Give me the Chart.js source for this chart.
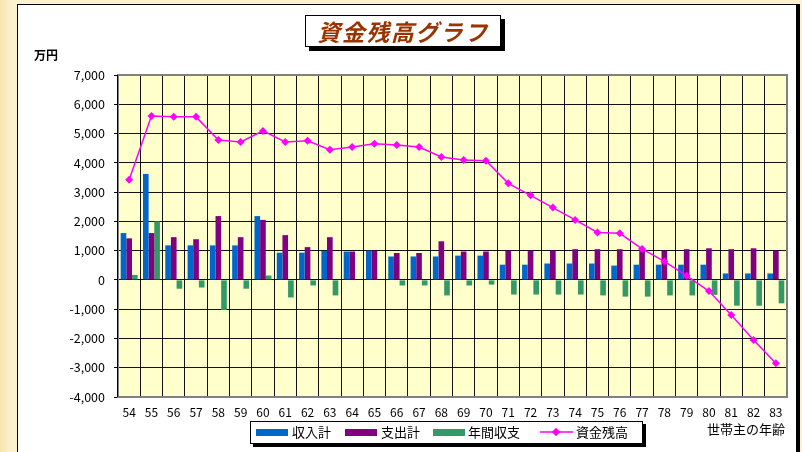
<!DOCTYPE html>
<html><head><meta charset="utf-8">
<script src="https://cdn.jsdelivr.net/npm/chart.js@4/dist/chart.umd.min.js"></script>
<style>
html,body{margin:0;padding:0;width:802px;height:452px;overflow:hidden;background:linear-gradient(to right,#f7e3ad 0px,#fdf1d0 12px,#fdf1d0 100%);font-family:'Noto Sans CJK JP',sans-serif;}
#panel{position:absolute;left:17px;top:4px;width:778px;height:460px;background:#fff;border-left:1px solid #000;border-top:1px solid #000;border-right:4px solid #000;}
#wrap{position:absolute;left:0;top:0;width:802px;height:452px;}
#wrap canvas{position:absolute;left:0;top:0;}
.t{position:absolute;white-space:nowrap;color:#000;}
#title{position:absolute;left:305px;top:15px;width:194px;height:30px;border:1px solid #000;background:#fff;box-shadow:4px 4px 0 #000;color:#993300;font-weight:bold;font-style:italic;font-size:23px;line-height:30px;text-align:center;letter-spacing:1.5px;}
#unit{left:34px;top:46px;font-size:12px;font-weight:bold;}
#xname{right:17px;top:419px;font-size:13px;}
#legend{position:absolute;left:250px;top:421px;width:391px;height:21px;border:1px solid #000;background:#fff;box-shadow:3px 3px 0 #000;}
.sw{position:absolute;top:7px;width:32px;height:7px;}
.lt{position:absolute;top:1px;font-size:13px;line-height:18px;}
</style></head>
<body>
<div id="panel"></div>
<div id="wrap"><canvas id="c" width="802" height="452"></canvas></div>
<div id="title">資金残高グラフ</div>
<div class="t" id="unit">万円</div>
<div class="t" id="xname">世帯主の年齢</div>
<div id="legend">
  <div class="sw" style="left:5px;background:#0066cc"></div><div class="lt" style="left:41px">収入計</div>
  <div class="sw" style="left:94px;background:#800080"></div><div class="lt" style="left:130px">支出計</div>
  <div class="sw" style="left:182px;background:#339966"></div><div class="lt" style="left:217px">年間収支</div>
  <svg style="position:absolute;left:289px;top:4px" width="33" height="12"><line x1="0" y1="6" x2="33" y2="6" stroke="#ff00ff" stroke-width="1.5"/><rect x="13" y="2" width="6" height="6" transform="rotate(45 16 6) translate(0 1)" fill="#ff00ff"/></svg>
  <div class="lt" style="left:325px">資金残高</div>
</div>
<script>
const ages = ['54','55','56','57','58','59','60','61','62','63','64','65','66','67','68','69','70','71','72','73','74','75','76','77','78','79','80','81','82','83'];
const income  = [1600,3620,1180,1180,1180,1180,2180,930,930,990,970,1000,800,800,800,830,830,520,520,560,560,560,490,520,520,520,520,220,220,220];
const expense = [1420,1600,1460,1390,2180,1460,2050,1530,1120,1460,970,1000,920,920,1320,970,970,1000,1000,1000,1050,1050,1050,1050,1000,1050,1080,1050,1080,1000];
const annual  = [170,2000,-300,-260,-1030,-300,150,-600,-190,-530,0,0,-190,-190,-530,-190,-160,-500,-500,-500,-500,-530,-570,-570,-530,-530,-510,-880,-880,-800];
const funds   = [3420,5600,5570,5570,4780,4710,5090,4710,4750,4450,4540,4650,4610,4540,4200,4100,4070,3300,2890,2470,2050,1620,1590,1060,630,140,-380,-1200,-2050,-2850];
const yTicks  = [-4000,-3000,-2000,-1000,0,1000,2000,3000,4000,5000,6000,7000];

const plotDeco = {
  id:'plotDeco',
  beforeDraw(chart){
    const {ctx, chartArea:a} = chart;
    ctx.save();
    ctx.fillStyle = '#ffffcc';
    ctx.fillRect(a.left, a.top, a.right-a.left, a.bottom-a.top);
    ctx.restore();
  },
  afterDraw(chart){
    const {ctx, chartArea:a} = chart;
    ctx.save();
    ctx.strokeStyle = '#808080';
    ctx.lineWidth = 2;
    ctx.strokeRect(a.left, a.top, a.right-a.left, a.bottom-a.top);
    ctx.strokeStyle = '#000';
    ctx.lineWidth = 1;
    ctx.beginPath();
    ctx.moveTo(a.left-0.5, a.top); ctx.lineTo(a.left-0.5, a.bottom);
    ctx.stroke();
    ctx.restore();
  }
};

const font = {family:"'Noto Sans CJK JP', sans-serif", size:12};
new Chart(document.getElementById('c'), {
  type:'bar',
  data:{
    labels: ages,
    datasets:[
      {type:'line', label:'資金残高', data:funds, order:0, borderColor:'#ff00ff', backgroundColor:'#ff00ff', borderWidth:1.5, pointStyle:'rectRot', pointRadius:4, pointBackgroundColor:'#ff00ff', pointBorderColor:'#ff00ff', pointBorderWidth:0, tension:0},
      {label:'収入計', data:income, order:1, backgroundColor:'#0066cc', categoryPercentage:0.76, barPercentage:1.0},
      {label:'支出計', data:expense, order:1, backgroundColor:'#800080', categoryPercentage:0.76, barPercentage:1.0},
      {label:'年間収支', data:annual, order:1, backgroundColor:'#339966', categoryPercentage:0.76, barPercentage:1.0}
    ]
  },
  options:{
    responsive:false, animation:false,
    layout:{padding:{left:0, right:15, top:75, bottom:35}},
    plugins:{legend:{display:false}, tooltip:{enabled:false}, title:{display:false}},
    scales:{
      x:{
        offset:true,
        grid:{offset:true, color:'#111', lineWidth:1, drawTicks:false},
        border:{display:false},
        ticks:{color:'#000', font:font, padding:8, maxRotation:0, autoSkip:false},
        afterFit(s){ s.height = 20; }
      },
      y:{
        min:-4000, max:7000,
        afterBuildTicks(s){ s.ticks = yTicks.map(v=>({value:v})); },
        grid:{color:'#111', lineWidth:1, drawTicks:true, tickLength:4, tickColor:'#000'},
        border:{display:false},
        ticks:{color:'#000', font:{family:"'Noto Sans CJK JP', sans-serif", size:12.5}, padding:9, callback:v=>v.toLocaleString('en-US')},
        afterFit(s){ s.width = 118; }
      }
    }
  },
  plugins:[plotDeco]
});
</script>
</body></html>
